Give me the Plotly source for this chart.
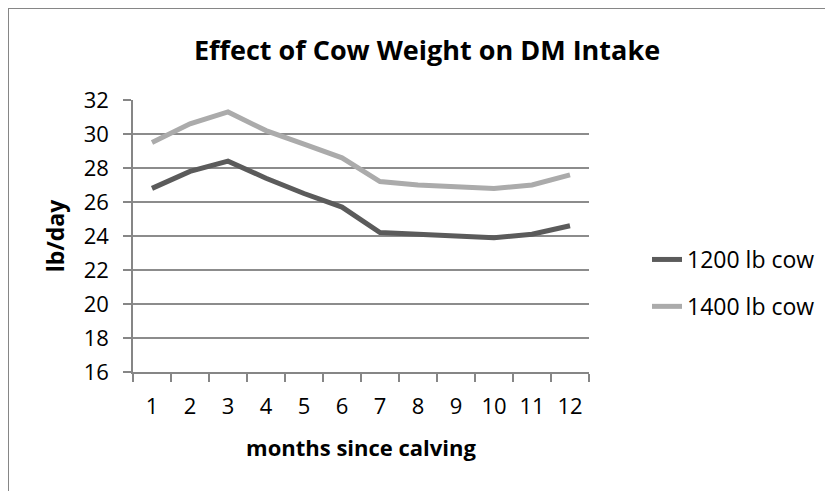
import plotly.graph_objects as go

months = ["1", "2", "3", "4", "5", "6", "7", "8", "9", "10", "11", "12"]
cow_1200 = [26.8, 27.8, 28.4, 27.4, 26.5, 25.7, 24.2, 24.1, 24.0, 23.9, 24.1, 24.6]
cow_1400 = [29.5, 30.6, 31.3, 30.2, 29.4, 28.6, 27.2, 27.0, 26.9, 26.8, 27.0, 27.6]
series_names = ["1200 lb cow", "1400 lb cow"]

# page body has an 8px default margin; work in reference pixel coords minus OFF
OFF = 8
W, H = 833 - OFF, 491 - OFF
L, R, T, B = 133 - OFF, 589 - OFF, 100 - OFF, 372 - OFF
FONT = "Open Sans"

fig = go.Figure()
fig.add_trace(go.Scatter(x=months, y=cow_1200, mode="lines", name=series_names[0],
                         legendgroup="a",
                         line=dict(color="#5B5B5B", width=5)))
fig.add_trace(go.Scatter(x=months, y=cow_1400, mode="lines", name=series_names[1],
                         legendgroup="b",
                         line=dict(color="#ABABAB", width=5)))

pw, ph = R - L, B - T
def px(x):
    return (x - OFF - L) / pw
def py(y):
    return (B - (y - OFF)) / ph

fig.update_layout(
    width=W, height=H,
    margin=dict(l=L, r=W - R, t=T, b=H - B, autoexpand=False),
    paper_bgcolor="white", plot_bgcolor="white",
    font=dict(family=FONT, color="black", size=22),
    title=dict(text="<b>Effect of Cow Weight on DM Intake</b>",
               font=dict(family=FONT, size=27, color="black"),
               x=(427 - OFF) / W, xanchor="center",
               y=1 - (51 - OFF) / H, yanchor="middle",
               xref="container", yref="container"),
    showlegend=True,
    legend=dict(x=px(647), xanchor="left", y=py(283), yanchor="middle",
                font=dict(family=FONT, size=23, color="black"),
                tracegroupgap=14, bgcolor="rgba(0,0,0,0)"),
    xaxis=dict(type="category", range=[-0.5, 11.5], tickson="boundaries",
               ticks="outside", ticklen=8, tickwidth=1.5, tickcolor="#868686",
               showline=True, linecolor="#868686", linewidth=1.5,
               showgrid=False, zeroline=False,
               tickfont=dict(family=FONT, size=22, color="black"),
               ticklabelstandoff=14,
               title=dict(text="<b>months since calving</b>",
                          font=dict(family=FONT, size=22, color="black"),
                          standoff=21)),
    yaxis=dict(range=[16, 32], dtick=2, tick0=16,
               ticks="outside", ticklen=8, tickwidth=1.5, tickcolor="#868686",
               showline=True, linecolor="#868686", linewidth=1.5,
               showgrid=True, gridcolor="#8C8C8C", gridwidth=1.5,
               zeroline=False,
               tickfont=dict(family=FONT, size=22, color="black"),
               ticklabelstandoff=10,
               title=dict(text="<b>lb/day</b>",
                          font=dict(family=FONT, size=23, color="black"),
                          standoff=13)),
)

# outer chart border (at the page body's edge)
fig.add_shape(type="rect", xref="paper", yref="paper",
              x0=px(8), x1=px(833 + 30), y0=py(491 + 30), y1=py(8),
              line=dict(color="#868686", width=2), fillcolor="rgba(0,0,0,0)",
              layer="below")

fig.write_html("out.html")
